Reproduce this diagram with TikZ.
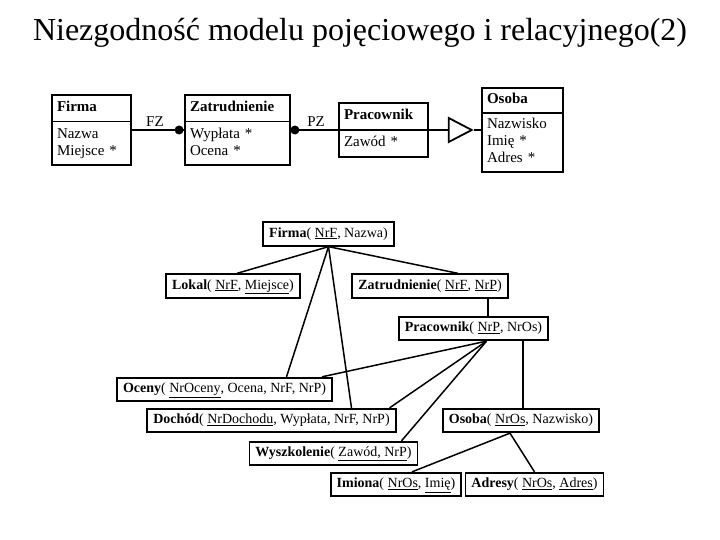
\documentclass[tikz,border=0pt]{standalone}
\usepackage{fontspec}
\setmainfont{Liberation Serif}
\usetikzlibrary{shapes.multipart,shapes.geometric}

\tikzset{
  encja/.style={rectangle split, rectangle split parts=2, draw, line width=1.8pt,
                align=left, font=\fontsize{15}{17}\selectfont, inner xsep=5pt, inner ysep=4pt},
  rel/.style={draw, line width=1.8pt, font=\fontsize{14}{16}\selectfont,
              inner xsep=6pt, inner ysep=4.5pt, text height=10.5pt, text depth=4pt},
  link/.style={line width=1.5pt},
}

\begin{document}
\begin{tikzpicture}[x=1pt,y=-1pt]
  \useasboundingbox (0,0) rectangle (720,540);

  % tytul
  \node[font=\fontsize{32}{38}\selectfont] (tytul) at (360,33)
    {Niezgodność modelu pojęciowego i relacyjnego(2)};

  % model pojeciowy
  \node[encja, text width=69pt] (firma) at (91.5,130)
    {\strut\textbf{Firma}\nodepart{two}\strut Nazwa\\Miejsce *\strut};
  \node[encja, text width=95pt] (zatr) at (237.5,130)
    {\strut\textbf{Zatrudnienie}\nodepart{two}\strut Wypłata *\\Ocena *\strut};
  \node[encja, text width=79pt] (prac) at (383.5,130)
    {\strut\textbf{Pracownik}\nodepart{two}\strut Zawód *};
  \node[encja, text width=71pt, inner ysep=3pt] (osoba) at (522.5,130)
    {\strut\textbf{Osoba}\nodepart{two}\strut Nazwisko\\Imię *\\Adres *\strut};
  \node[isosceles triangle, draw, line width=1.8pt, inner sep=0pt,
        isosceles triangle stretches, minimum width=24pt, minimum height=23pt] (gen) at (456,130) {};

  \node[font=\fontsize{15}{17}\selectfont] (fz) at (155,122) {FZ};
  \node[font=\fontsize{15}{17}\selectfont] (pz) at (316,122) {PZ};

  \draw[link] (firma.east) -- (zatr.west);
  \draw[link] (zatr.east) -- (prac.west);
  \draw[link] (prac.east) -- (gen.west);
  \draw[link] (gen.east) -- (osoba.west);
  \fill ([xshift=-5pt]zatr.west) circle (4.5pt);
  \fill ([xshift=4pt]zatr.east) circle (4.5pt);

  % model relacyjny
  \node[rel] (firmaR) at (328.5,234) {\textbf{Firma}( \underline{NrF}, Nazwa)};
  \node[rel] (lokal) at (233,286) {\textbf{Lokal}( \underline{NrF}, \underline{Miejsce})};
  \node[rel] (zatrR) at (430,286) {\textbf{Zatrudnienie}( \underline{NrF}, \underline{NrP})};
  \node[rel] (pracR) at (473.5,328.5) {\textbf{Pracownik}( \underline{NrP}, NrOs)};
  \node[rel] (oceny) at (224.5,389.5) {\textbf{Oceny}( \underline{NrOceny}, Ocena, NrF, NrP)};
  \node[rel] (dochod) at (271.5,420.5) {\textbf{Dochód}( \underline{NrDochodu}, Wypłata, NrF, NrP)};
  \node[rel] (osobaR) at (521,420.5) {\textbf{Osoba}( \underline{NrOs}, Nazwisko)};
  \node[rel] (wyszk) at (333.5,453.5) {\textbf{Wyszkolenie}( \underline{Zawód, NrP})};
  \node[rel] (imiona) at (396,484.5) {\textbf{Imiona}( \underline{NrOs}, \underline{Imię})};
  \node[rel] (adresy) at (534.5,484.5) {\textbf{Adresy}( \underline{NrOs}, \underline{Adres})};

  \draw[link] (firmaR.south) -- ([xshift=4pt]lokal.north);
  \draw[link] (firmaR.south) -- ([xshift=28pt]zatrR.north);
  \draw[link] (firmaR.south) -- ([xshift=62pt]oceny.north);
  \draw[link] (firmaR.south) -- ([xshift=80pt]dochod.north);
  \draw[link] ([xshift=58pt]zatrR.south) -- ([xshift=58pt]zatrR.south |- pracR.north);
  \draw[link] ([xshift=13pt]pracR.south) -- ([xshift=-11pt]oceny.north east);
  \draw[link] ([xshift=13pt]pracR.south) -- ([xshift=-7pt]dochod.north east);
  \draw[link] ([xshift=13pt]pracR.south) -- ([xshift=-17pt]wyszk.north east);
  \draw[link] ([xshift=49.5pt]pracR.south) -- ([xshift=49.5pt]pracR.south |- osobaR.north);
  \draw[link] ([xshift=-11pt]osobaR.south) -- ([xshift=16pt]imiona.north);
  \draw[link] ([xshift=-11pt]osobaR.south) -- (adresy.north);
\end{tikzpicture}
\end{document}
